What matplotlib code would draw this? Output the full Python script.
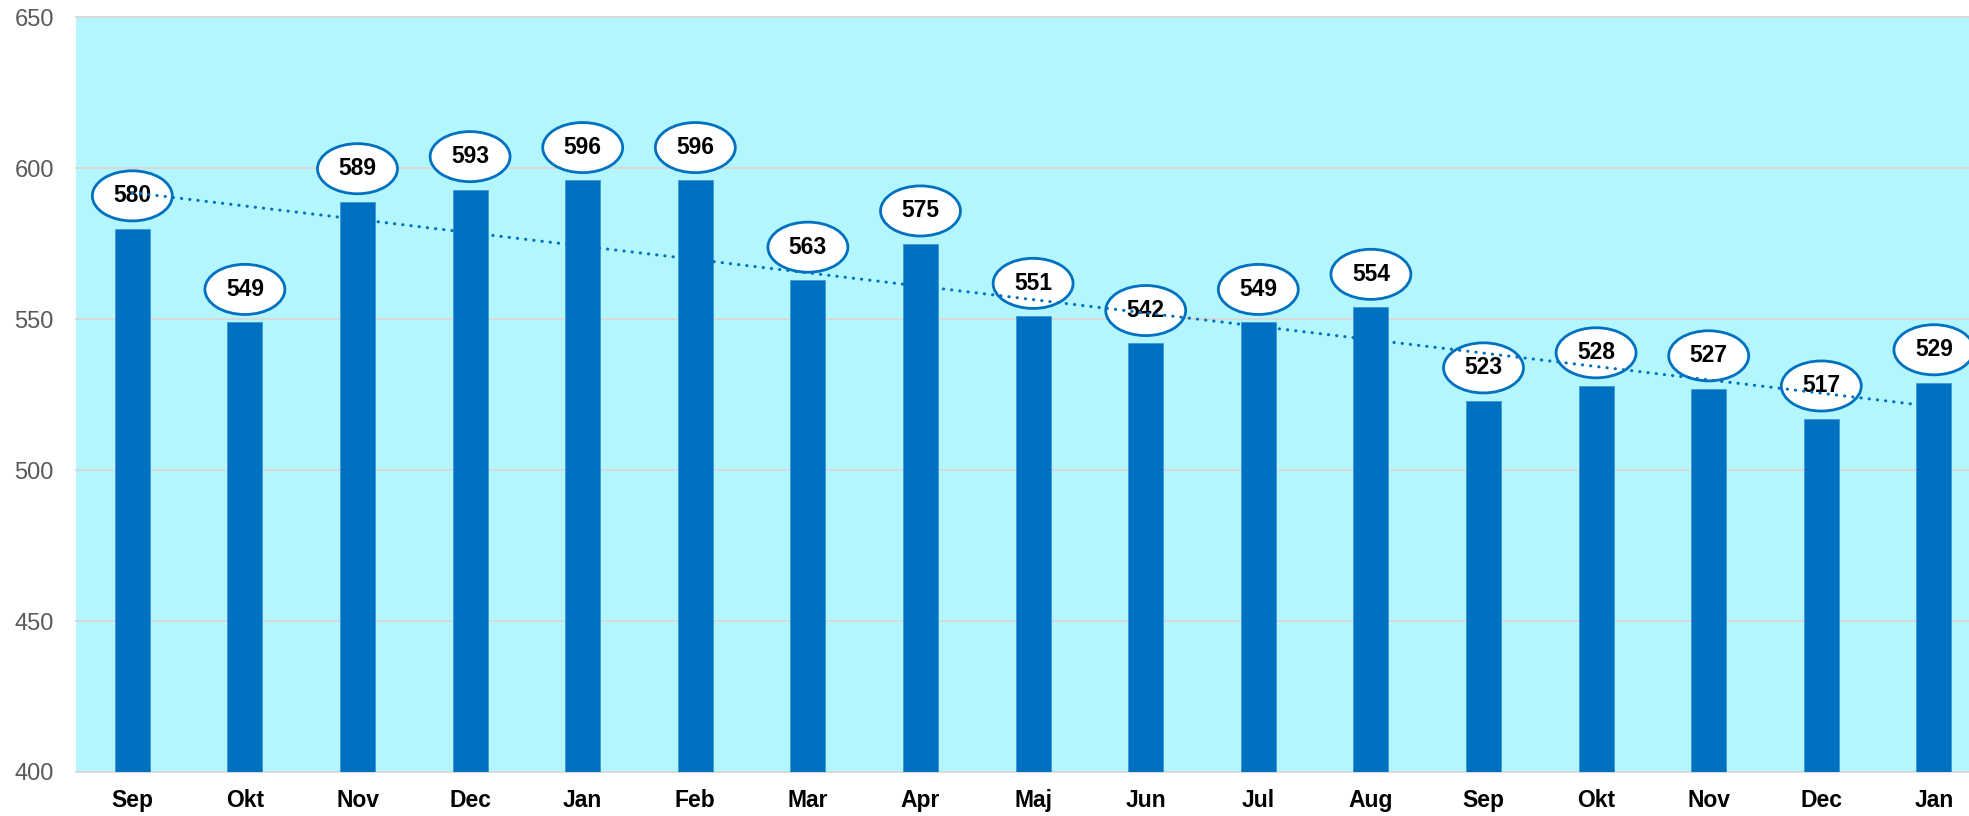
import numpy as np
import matplotlib
matplotlib.use('Agg')
import matplotlib.pyplot as plt
from matplotlib.patches import Ellipse

plt.rcParams['font.family'] = ['Liberation Sans', 'DejaVu Sans']

months = ['Sep', 'Okt', 'Nov', 'Dec', 'Jan', 'Feb', 'Mar', 'Apr', 'Maj',
          'Jun', 'Jul', 'Aug', 'Sep', 'Okt', 'Nov', 'Dec', 'Jan']
values = [580, 549, 589, 593, 596, 596, 563, 575, 551,
          542, 549, 554, 523, 528, 527, 517, 529]
yticks = [400, 450, 500, 550, 600, 650]

BLUE = '#0070C0'
BG = '#B4F6FD'
GRID = '#D9D9D9'

fig = plt.figure(figsize=(19.69, 8.16), dpi=100)
ax = fig.add_axes([76 / 1969, 44 / 816, 1 - 76 / 1969, (772 - 17.5) / 816])
ax.set_facecolor(BG)

x = np.arange(len(values))
ax.bar(x, values, width=0.31, color=BLUE, edgecolor='#3D9AD8', lw=0.6, zorder=2)

# linear trend line
k, m = np.polyfit(x, values, 1)
ax.plot(x[[0, -1]], k * x[[0, -1]] + m, color=BLUE, lw=2.2,
        linestyle=(0, (0.1, 2.6)), dash_capstyle='round', zorder=6)

# data labels in ellipses
for xi, v in zip(x, values):
    cy = v + 10.9
    ax.add_patch(Ellipse((xi, cy), 0.71, 16.6, facecolor='white',
                         edgecolor=BLUE, lw=2.0, zorder=4))
    ax.text(xi, cy, str(v), ha='center', va='center', fontsize=16.5,
            fontweight='bold', color='black', zorder=5)

ax.set_xlim(-0.5, -0.5 + 1893 / 112.6)
ax.set_ylim(400, 650)
ax.set_yticks(yticks)
ax.set_xticks(x)
ax.set_xticklabels(months, fontsize=16.5, fontweight='bold', color='black')
ax.tick_params(axis='y', labelsize=17, labelcolor='#595959', length=0, pad=16)
ax.tick_params(axis='x', length=0, pad=12)

ax.grid(axis='y', color=GRID, lw=1.4, zorder=1)
ax.set_axisbelow(True)
for gl in ax.get_ygridlines():
    gl.set_clip_on(False)
for s in ax.spines.values():
    s.set_visible(False)

fig.savefig('out.png', dpi=100)
